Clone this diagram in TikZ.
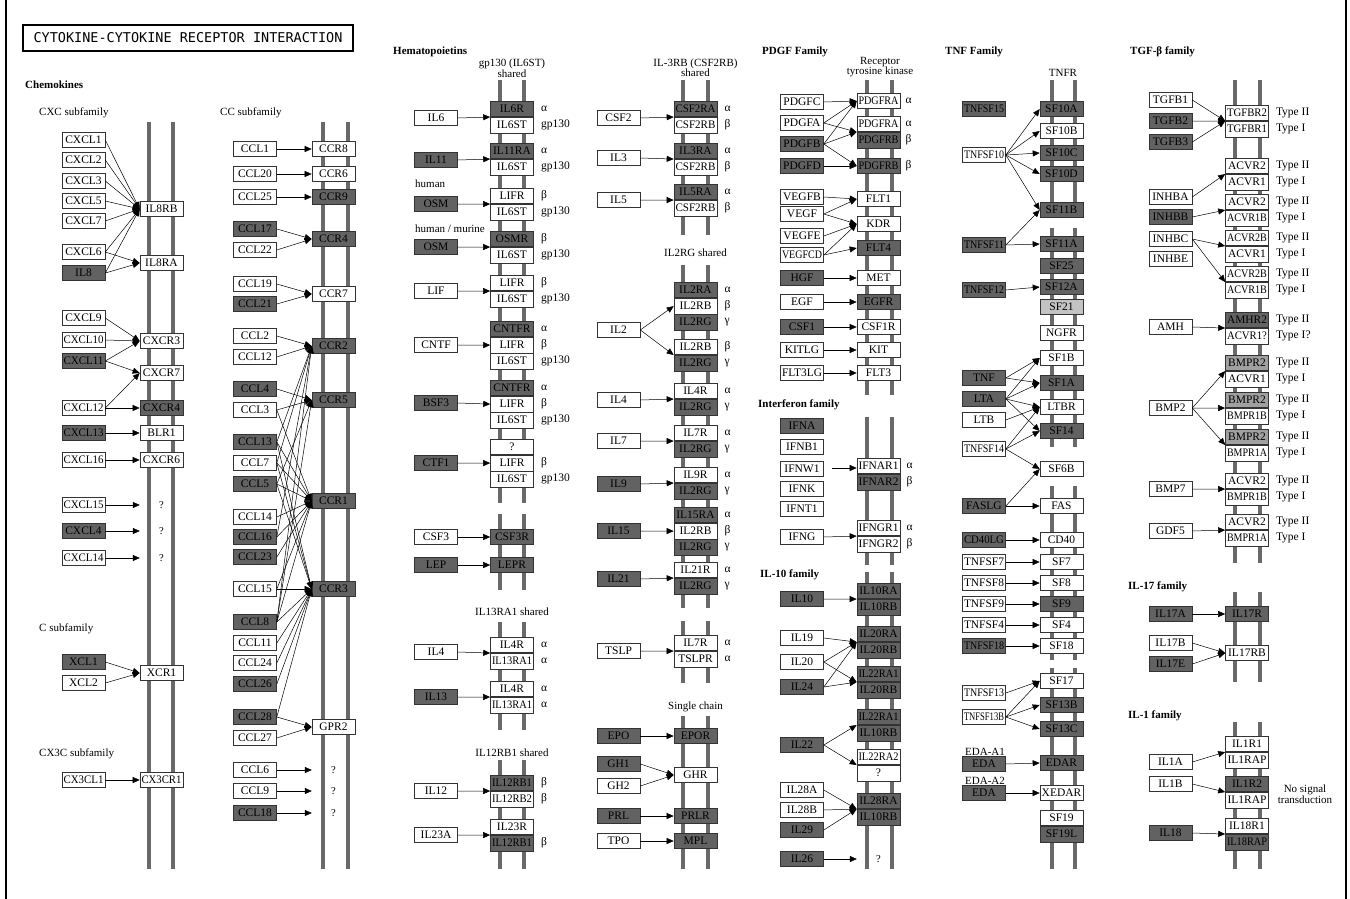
\documentclass[tikz,border=0pt]{standalone}
\usepackage{fontspec}
\setmainfont{Liberation Serif}
\newfontfamily\titlefont{DejaVu Sans Mono}
\usepackage{graphicx}
\usetikzlibrary{arrows.meta,positioning}

\definecolor{gdark}{RGB}{98,98,98}
\definecolor{gmid}{RGB}{160,160,160}
\definecolor{glight}{RGB}{195,195,195}
\definecolor{gbar}{RGB}{105,105,105}

% squeeze long gene names into the box
\newsavebox\genebox
\makeatletter
\newcommand{\fitgene}{%
  \ifdim\wd\genebox>40pt
    \pgfmathsetmacro\fitratio{40/\strip@pt\wd\genebox}%
    \scalebox{\fitratio}[1]{\usebox\genebox}%
  \else\usebox\genebox\fi}
\makeatother

\begin{document}
\begin{tikzpicture}[x=1pt, y=-1pt,
  gene/.style={draw=black!80, line width=0.6pt, fill=white, minimum width=43pt,
    minimum height=15.5pt, inner sep=0pt, font=\fontsize{11.5}{11.5}\selectfont,
    execute at begin node={\setbox\genebox\hbox\bgroup},
    execute at end node={\egroup\fitgene}},
  dk/.style={gene, fill=gdark},
  md/.style={gene, fill=gmid},
  lt/.style={gene, fill=glight},
  qm/.style={minimum width=43pt, minimum height=15.5pt, inner sep=0pt, font=\fontsize{10.5}{10.5}\selectfont},
  act/.style={-{Triangle[length=7pt,width=6pt]}, line width=0.5pt},
  mem/.style={line width=3.5pt, draw=gbar},
  lab/.style={inner sep=0pt, font=\fontsize{11.5}{11.5}\selectfont},
  note/.style={inner sep=0pt, font=\fontsize{11}{10}\selectfont},
  fam/.style={inner sep=0pt, anchor=west, font=\bfseries\fontsize{11}{11}\selectfont}]
  \useasboundingbox (0,0) rectangle (1350,899);
  \draw[line width=2pt] (6,0) -- (6,899);
  \draw[line width=2pt] (1346,0) -- (1346,899);

  % Membranes
  \foreach \xa/\xb/\ya/\yb in {149/173/122/869, 323/348/122/869,
      500/524/80/503, 500/524/514/590, 500/524/622/730, 500/524/760/869,
      683/708/80/235, 683/708/265/608, 683/708/621/683, 683/708/716/869,
      867/892/80/395, 867/892/417/565, 867/892/572/869,
      1052/1075/80/218, 1052/1075/228/447, 1052/1075/486/660, 1052/1075/668/869,
      1235/1260/80/563, 1235/1260/592/682, 1235/1260/722/869}
    {\draw[mem] (\xa,\ya) -- (\xa,\yb); \draw[mem] (\xb,\ya) -- (\xb,\yb);}

  % Titles
  \node[draw, line width=1.6pt, minimum width=330pt, minimum height=26pt, inner sep=0pt,
    font={\titlefont\fontsize{13.5}{13.5}\selectfont}] (title) at (188,38)
    {CYTOKINE-CYTOKINE RECEPTOR INTERACTION};
  \node[fam] at (25,85) {Chemokines};
  \node[note, anchor=west] at (39,113) {CXC subfamily};
  \node[note, anchor=west] at (220,113) {CC subfamily};
  \node[note, anchor=west] at (39,629) {C subfamily};
  \node[note, anchor=west] at (39,754) {CX3C subfamily};
  \node[fam] at (393,52) {Hematopoietins};
  \node[fam] at (762,52) {PDGF Family};
  \node[fam] at (945,52) {TNF Family};
  \node[fam] at (1130,52) {TGF-β family};
  \node[fam] at (758,405) {Interferon family};
  \node[fam] at (760,575) {IL-10 family};
  \node[fam] at (1128,587) {IL-17 family};
  \node[fam] at (1128,716) {IL-1 family};
  \node[note, align=center] at (512,68) {gp130 (IL6ST)\\shared};
  \node[note, align=center] at (695.5,68) {IL-3RB (CSF2RB)\\shared};
  \node[note, align=center] at (880,67) {Receptor\\tyrosine kinase};
  \node[note] at (1063,73) {TNFR};
  \node[note] at (695.5,253) {IL2RG shared};
  \node[note] at (512,612) {IL13RA1 shared};
  \node[note] at (512,753) {IL12RB1 shared};
  \node[note] at (695.5,707) {Single chain};
  \node[note, anchor=west] at (415,184) {human};
  \node[note, anchor=west] at (415,229) {human / murine};
  \node[note, anchor=west] at (965,752) {EDA-A1};
  \node[note, anchor=west] at (965,781) {EDA-A2};
  \node[note, align=center] at (1305,794) {No signal\\transduction};

  % CXC subfamily
  \node[gene] (cxcl1) at (83.5,140) {CXCL1};
  \node[gene] (cxcl2) at (83.5,160) {CXCL2};
  \node[gene] (cxcl3) at (83.5,181) {CXCL3};
  \node[gene] (cxcl5) at (83.5,201) {CXCL5};
  \node[gene] (cxcl7) at (83.5,221) {CXCL7};
  \node[gene] (cxcl6) at (83.5,252) {CXCL6};
  \node[dk] (il8) at (83.5,273) {IL8};
  \node[gene] (cxcl9) at (83.5,318) {CXCL9};
  \node[gene] (cxcl10) at (83.5,340) {CXCL10};
  \node[dk] (cxcl11) at (83.5,361) {CXCL11};
  \node[gene] (cxcl12) at (83.5,408) {CXCL12};
  \node[dk] (cxcl13) at (83.5,433) {CXCL13};
  \node[gene] (cxcl16) at (83.5,460) {CXCL16};
  \node[gene] (cxcl15) at (83.5,505) {CXCL15};
  \node[dk] (cxcl4) at (83.5,531) {CXCL4};
  \node[gene] (cxcl14) at (83.5,558) {CXCL14};
  \node[gene] (il8rb) at (161.5,209) {IL8RB};
  \node[gene] (il8ra) at (161.5,263) {IL8RA};
  \node[gene] (cxcr3) at (161.5,341) {CXCR3};
  \node[gene] (cxcr7) at (161.5,373) {CXCR7};
  \node[dk] (cxcr4) at (161.5,408) {CXCR4};
  \node[gene] (blr1) at (161.5,433) {BLR1};
  \node[gene] (cxcr6) at (161.5,460) {CXCR6};
  \node[qm] (qx1) at (161.5,505) {?};
  \node[qm] (qx2) at (161.5,531) {?};
  \node[qm] (qx3) at (161.5,558) {?};
  \foreach \l in {cxcl1,cxcl2,cxcl3,cxcl5,cxcl7,cxcl6,il8}
    \draw[act] (\l.east) -- (il8rb.west);
  \draw[act] (cxcl6.east) -- (il8ra.west);
  \draw[act] (il8.east) -- (il8ra.west);
  \draw[act] (cxcl9.east) -- (cxcr3.west);
  \draw[act] (cxcl10.east) -- (cxcr3.west);
  \draw[act] (cxcl11.east) -- (cxcr3.west);
  \draw[act] (cxcl11.east) -- (cxcr7.west);
  \draw[act] (cxcl12.east) -- (cxcr7.west);
  \draw[act] (cxcl12.east) -- (cxcr4.west);
  \draw[act] (cxcl13.east) -- (blr1.west);
  \draw[act] (cxcl16.east) -- (cxcr6.west);
  \draw[act] (cxcl15.east) -- (qx1.west);
  \draw[act] (cxcl4.east) -- (qx2.west);
  \draw[act] (cxcl14.east) -- (qx3.west);

  % C and CX3C subfamily
  \node[dk] (xcl1) at (83.5,662) {XCL1};
  \node[gene] (xcl2) at (83.5,683) {XCL2};
  \node[gene] (xcr1) at (161.5,673) {XCR1};
  \node[gene] (cx3cl1) at (83.5,780) {CX3CL1};
  \node[gene] (cx3cr1) at (161.5,780) {CX3CR1};
  \draw[act] (xcl1.east) -- (xcr1.west);
  \draw[act] (xcl2.east) -- (xcr1.west);
  \draw[act] (cx3cl1.east) -- (cx3cr1.west);

  % CC subfamily
  \node[gene] (ccl1) at (255,149) {CCL1};
  \node[gene] (ccl20) at (255,174) {CCL20};
  \node[gene] (ccl25) at (255,197) {CCL25};
  \node[dk] (ccl17) at (255,229) {CCL17};
  \node[gene] (ccl22) at (255,250) {CCL22};
  \node[gene] (ccl19) at (255,284) {CCL19};
  \node[dk] (ccl21) at (255,304) {CCL21};
  \node[gene] (ccl2) at (255,336) {CCL2};
  \node[gene] (ccl12) at (255,357) {CCL12};
  \node[dk] (ccl4) at (255,389) {CCL4};
  \node[gene] (ccl3) at (255,410) {CCL3};
  \node[dk] (ccl13) at (255,442) {CCL13};
  \node[gene] (ccl7) at (255,463) {CCL7};
  \node[dk] (ccl5) at (255,484) {CCL5};
  \node[gene] (ccl14) at (255,517) {CCL14};
  \node[dk] (ccl16) at (255,537) {CCL16};
  \node[dk] (ccl23) at (255,557) {CCL23};
  \node[gene] (ccl15) at (255,589) {CCL15};
  \node[dk] (ccl8) at (255,622) {CCL8};
  \node[gene] (ccl11) at (255,643) {CCL11};
  \node[gene] (ccl24) at (255,663) {CCL24};
  \node[dk] (ccl26) at (255,684) {CCL26};
  \node[dk] (ccl28) at (255,717) {CCL28};
  \node[gene] (ccl27) at (255,738) {CCL27};
  \node[gene] (ccl6) at (255,770) {CCL6};
  \node[gene] (ccl9) at (255,791) {CCL9};
  \node[dk] (ccl18) at (255,813) {CCL18};
  \node[gene] (ccr8) at (333.5,149) {CCR8};
  \node[gene] (ccr6) at (333.5,174) {CCR6};
  \node[dk] (ccr9) at (333.5,197) {CCR9};
  \node[dk] (ccr4) at (333.5,239) {CCR4};
  \node[gene] (ccr7) at (333.5,294) {CCR7};
  \node[dk] (ccr2) at (333.5,346) {CCR2};
  \node[dk] (ccr5) at (333.5,400) {CCR5};
  \node[dk] (ccr1) at (333.5,501) {CCR1};
  \node[dk] (ccr3) at (333.5,589) {CCR3};
  \node[gene] (gpr2) at (333.5,727) {GPR2};
  \node[qm] (qc1) at (333.5,770) {?};
  \node[qm] (qc2) at (333.5,791) {?};
  \node[qm] (qc3) at (333.5,813) {?};
  \draw[act] (ccl1.east) -- (ccr8.west);
  \draw[act] (ccl20.east) -- (ccr6.west);
  \draw[act] (ccl25.east) -- (ccr9.west);
  \draw[act] (ccl17.east) -- (ccr4.west);
  \draw[act] (ccl22.east) -- (ccr4.west);
  \draw[act] (ccl19.east) -- (ccr7.west);
  \draw[act] (ccl21.east) -- (ccr7.west);
  \foreach \l in {ccl2,ccl12,ccl13,ccl7,ccl8,ccl16}
    \draw[act] (\l.east) -- (ccr2.west);
  \foreach \l in {ccl4,ccl3,ccl5,ccl8}
    \draw[act] (\l.east) -- (ccr5.west);
  \foreach \l in {ccl3,ccl13,ccl7,ccl5,ccl14,ccl16,ccl23,ccl15,ccl8}
    \draw[act] (\l.east) -- (ccr1.west);
  \foreach \l in {ccl13,ccl7,ccl5,ccl15,ccl8,ccl11,ccl24,ccl26,ccl28}
    \draw[act] (\l.east) -- (ccr3.west);
  \draw[act] (ccl28.east) -- (gpr2.west);
  \draw[act] (ccl27.east) -- (gpr2.west);
  \draw[act] (ccl6.east) -- (qc1.west);
  \draw[act] (ccl9.east) -- (qc2.west);
  \draw[act] (ccl18.east) -- (qc3.west);

  % gp130 shared
  \node[dk] (il6r) at (512,109) {IL6R};
  \node[gene, below=0pt of il6r] (il6st1) {IL6ST};
  \node[dk] (il11ra) at (512,151) {IL11RA};
  \node[gene, below=0pt of il11ra] (il6st2) {IL6ST};
  \node[gene] (lifr1) at (512,196) {LIFR};
  \node[gene, below=0pt of lifr1] (il6st3) {IL6ST};
  \node[dk] (osmr) at (512,239) {OSMR};
  \node[gene, below=0pt of osmr] (il6st4) {IL6ST};
  \node[gene] (lifr2) at (512,283) {LIFR};
  \node[gene, below=0pt of lifr2] (il6st5) {IL6ST};
  \node[dk] (cntfr1) at (512,329) {CNTFR};
  \node[gene, below=0pt of cntfr1] (lifr3) {LIFR};
  \node[gene, below=0pt of lifr3] (il6st6) {IL6ST};
  \node[dk] (cntfr2) at (512,388) {CNTFR};
  \node[gene, below=0pt of cntfr2] (lifr4) {LIFR};
  \node[gene, below=0pt of lifr4] (il6st7) {IL6ST};
  \node[gene] (qgp) at (512,447) {?};
  \node[gene, below=0pt of qgp] (lifr5) {LIFR};
  \node[gene, below=0pt of lifr5] (il6st8) {IL6ST};
  \node[dk] (csf3r) at (512,537) {CSF3R};
  \node[dk] (lepr) at (512,565) {LEPR};
  \foreach \r/\t in {il6r/α, il11ra/α, lifr1/β, osmr/β, lifr2/β, cntfr1/α, lifr3/β,
      cntfr2/α, lifr4/β, lifr5/β, il6st1/gp130, il6st2/gp130, il6st3/gp130, il6st4/gp130,
      il6st5/gp130, il6st6/gp130, il6st7/gp130, il6st8/gp130}
    \node[lab, right=7pt of \r] {\t};
  \node[gene] (il6) at (436,118) {IL6};
  \node[dk] (il11) at (436,160) {IL11};
  \node[dk] (osm1) at (436,204) {OSM};
  \node[dk] (osm2) at (436,247) {OSM};
  \node[gene] (lif) at (436,291) {LIF};
  \node[gene] (cntf) at (436,345) {CNTF};
  \node[dk] (bsf3) at (436,403) {BSF3};
  \node[dk] (ctf1) at (436,463) {CTF1};
  \node[gene] (csf3) at (436,537) {CSF3};
  \node[dk] (lep) at (436,565) {LEP};
  \draw[act] (il6.east) -- (il6r.south west);
  \draw[act] (il11.east) -- (il11ra.south west);
  \draw[act] (osm1.east) -- (lifr1.south west);
  \draw[act] (osm2.east) -- (osmr.south west);
  \draw[act] (lif.east) -- (lifr2.south west);
  \draw[act] (cntf.east) -- (lifr3.west);
  \draw[act] (bsf3.east) -- (lifr4.west);
  \draw[act] (ctf1.east) -- (lifr5.west);
  \draw[act] (csf3.east) -- (csf3r.west);
  \draw[act] (lep.east) -- (lepr.west);

  % IL13RA1 and IL12RB1 shared
  \node[gene] (il4ra) at (512,645) {IL4R};
  \node[gene, below=0pt of il4ra] (il13ra1a) {IL13RA1};
  \node[gene] (il4rb) at (512,689) {IL4R};
  \node[gene, below=0pt of il4rb] (il13ra1b) {IL13RA1};
  \node[dk] (il12rb1a) at (512,783) {IL12RB1};
  \node[gene, below=0pt of il12rb1a] (il12rb2) {IL12RB2};
  \node[gene] (il23r) at (512,827) {IL23R};
  \node[dk, below=0pt of il23r] (il12rb1b) {IL12RB1};
  \foreach \r/\t in {il4ra/α, il13ra1a/α, il4rb/α, il13ra1b/α, il12rb1a/β, il12rb2/β, il12rb1b/β}
    \node[lab, right=7pt of \r] {\t};
  \node[gene] (il4a) at (436,652) {IL4};
  \node[dk] (il13) at (436,697) {IL13};
  \node[gene] (il12) at (436,791) {IL12};
  \node[gene] (il23a) at (436,835) {IL23A};
  \draw[act] (il4a.east) -- (il4ra.south west);
  \draw[act] (il13.east) -- (il4rb.south west);
  \draw[act] (il12.east) -- (il12rb1a.south west);
  \draw[act] (il23a.east) -- (il23r.south west);

  % IL-3RB shared
  \node[dk] (csf2ra) at (695.5,109) {CSF2RA};
  \node[gene, below=0pt of csf2ra] (csf2rb1) {CSF2RB};
  \node[dk] (il3ra) at (695.5,151) {IL3RA};
  \node[gene, below=0pt of il3ra] (csf2rb2) {CSF2RB};
  \node[dk] (il5ra) at (695.5,192) {IL5RA};
  \node[gene, below=0pt of il5ra] (csf2rb3) {CSF2RB};
  \node[gene] (csf2) at (618.5,118) {CSF2};
  \node[gene] (il3) at (618.5,158) {IL3};
  \node[gene] (il5) at (618.5,200) {IL5};
  \draw[act] (csf2.east) -- (csf2ra.south west);
  \draw[act] (il3.east) -- (il3ra.south west);
  \draw[act] (il5.east) -- (il5ra.south west);

  % IL2RG shared
  \node[dk] (il2ra) at (695.5,290) {IL2RA};
  \node[gene, below=0pt of il2ra] (il2rb1) {IL2RB};
  \node[dk, below=0pt of il2rb1] (il2rg1) {IL2RG};
  \node[gene] (il2rb2) at (695.5,347) {IL2RB};
  \node[dk, below=0pt of il2rb2] (il2rg2) {IL2RG};
  \node[gene] (il4r) at (695.5,391) {IL4R};
  \node[dk, below=0pt of il4r] (il2rg3) {IL2RG};
  \node[gene] (il7r1) at (695.5,433) {IL7R};
  \node[dk, below=0pt of il7r1] (il2rg4) {IL2RG};
  \node[gene] (il9r) at (695.5,475) {IL9R};
  \node[dk, below=0pt of il9r] (il2rg5) {IL2RG};
  \node[dk] (il15ra) at (695.5,515) {IL15RA};
  \node[gene, below=0pt of il15ra] (il2rb3) {IL2RB};
  \node[dk, below=0pt of il2rb3] (il2rg6) {IL2RG};
  \node[gene] (il21r) at (695.5,570) {IL21R};
  \node[dk, below=0pt of il21r] (il2rg7) {IL2RG};
  \node[gene] (il7r2) at (695.5,643) {IL7R};
  \node[gene, below=0pt of il7r2] (tslpr) {TSLPR};
  \foreach \r/\t in {csf2ra/α, csf2rb1/β, il3ra/α, csf2rb2/β, il5ra/α, csf2rb3/β,
      il2ra/α, il2rb1/β, il2rg1/γ, il2rb2/β, il2rg2/γ, il4r/α, il2rg3/γ, il7r1/α, il2rg4/γ,
      il9r/α, il2rg5/γ, il15ra/α, il2rb3/β, il2rg6/γ, il21r/α, il2rg7/γ, il7r2/α, tslpr/α}
    \node[lab, right=7pt of \r] {\t};
  \node[gene] (il2) at (618.5,330) {IL2};
  \node[gene] (il4b) at (618.5,400) {IL4};
  \node[gene] (il7) at (618.5,441) {IL7};
  \node[dk] (il9) at (618.5,484) {IL9};
  \node[dk] (il15) at (618.5,531) {IL15};
  \node[dk] (il21) at (618.5,579) {IL21};
  \node[gene] (tslp) at (618.5,651) {TSLP};
  \draw[act] (il2.east) -- (il2rb1.west);
  \draw[act] (il2.east) -- (il2rb2.south west);
  \draw[act] (il4b.east) -- (il4r.south west);
  \draw[act] (il7.east) -- (il7r1.south west);
  \draw[act] (il9.east) -- (il9r.south west);
  \draw[act] (il15.east) -- (il2rb3.west);
  \draw[act] (il21.east) -- (il21r.south west);
  \draw[act] (tslp.east) -- (il7r2.south west);

  % Single chain
  \node[dk] (epor) at (695.5,736) {EPOR};
  \node[gene] (ghr) at (695.5,775) {GHR};
  \node[dk] (prlr) at (695.5,816) {PRLR};
  \node[dk] (mpl) at (695.5,841) {MPL};
  \node[dk] (epo) at (618.5,736) {EPO};
  \node[dk] (gh1) at (618.5,764) {GH1};
  \node[gene] (gh2) at (618.5,786) {GH2};
  \node[dk] (prl) at (618.5,816) {PRL};
  \node[gene] (tpo) at (618.5,841) {TPO};
  \draw[act] (epo.east) -- (epor.west);
  \draw[act] (gh1.east) -- (ghr.west);
  \draw[act] (gh2.east) -- (ghr.west);
  \draw[act] (prl.east) -- (prlr.west);
  \draw[act] (tpo.east) -- (mpl.west);

  % PDGF family
  \node[gene] (pdgfc) at (802,102) {PDGFC};
  \node[gene] (pdgfa) at (802,123) {PDGFA};
  \node[dk] (pdgfb) at (802,144) {PDGFB};
  \node[dk] (pdgfd) at (802,166) {PDGFD};
  \node[gene] (vegfb) at (802,197) {VEGFB};
  \node[gene] (vegf) at (802,214) {VEGF};
  \node[gene] (vegfe) at (802,236) {VEGFE};
  \node[gene] (vegfcd) at (802,255) {VEGFCD};
  \node[dk] (hgf) at (802,278) {HGF};
  \node[gene] (egf) at (802,302) {EGF};
  \node[dk] (csf1) at (802,327) {CSF1};
  \node[gene] (kitlg) at (802,350) {KITLG};
  \node[gene] (flt3lg) at (802,373) {FLT3LG};
  \node[gene] (pdgfra1) at (878.5,101) {PDGFRA};
  \node[gene] (pdgfra2) at (878.5,124) {PDGFRA};
  \node[dk, below=0pt of pdgfra2] (pdgfrb1) {PDGFRB};
  \node[dk] (pdgfrb2) at (878.5,166) {PDGFRB};
  \node[gene] (flt1) at (878.5,199) {FLT1};
  \node[gene] (kdr) at (878.5,224) {KDR};
  \node[dk] (flt4) at (878.5,248) {FLT4};
  \node[gene] (met) at (878.5,278) {MET};
  \node[dk] (egfr) at (878.5,302) {EGFR};
  \node[gene] (csf1r) at (878.5,327) {CSF1R};
  \node[gene] (kit) at (878.5,350) {KIT};
  \node[gene] (flt3) at (878.5,373) {FLT3};
  \foreach \r/\t in {pdgfra1/α, pdgfra2/α, pdgfrb1/β, pdgfrb2/β}
    \node[lab, right=5pt of \r] {\t};
  \draw[act] (pdgfc.east) -- (pdgfra1.west);
  \draw[act] (pdgfa.east) -- (pdgfra1.west);
  \draw[act] (pdgfb.east) -- (pdgfra1.west);
  \draw[act] (pdgfa.east) -- (pdgfra2.south west);
  \draw[act] (pdgfb.east) -- (pdgfra2.south west);
  \draw[act] (pdgfb.east) -- (pdgfrb2.west);
  \draw[act] (pdgfd.east) -- (pdgfrb2.west);
  \draw[act] (vegfb.east) -- (flt1.west);
  \draw[act] (vegf.east) -- (flt1.west);
  \draw[act] (vegf.east) -- (kdr.west);
  \draw[act] (vegfe.east) -- (kdr.west);
  \draw[act] (vegfcd.east) -- (kdr.west);
  \draw[act] (vegfcd.east) -- (flt4.west);
  \draw[act] (hgf.east) -- (met.west);
  \draw[act] (egf.east) -- (egfr.west);
  \draw[act] (csf1.east) -- (csf1r.west);
  \draw[act] (kitlg.east) -- (kit.west);
  \draw[act] (flt3lg.east) -- (flt3.west);

  % Interferon family
  \node[dk] (ifna) at (802,426) {IFNA};
  \node[gene] (ifnb1) at (802,447) {IFNB1};
  \node[gene] (ifnw1) at (802,469) {IFNW1};
  \node[gene] (ifnk) at (802,489) {IFNK};
  \node[gene] (ifnt1) at (802,509) {IFNT1};
  \node[gene] (ifng) at (802,537) {IFNG};
  \node[gene] (ifnar1) at (878.5,466) {IFNAR1};
  \node[dk, below=0pt of ifnar1] (ifnar2) {IFNAR2};
  \node[gene] (ifngr1) at (878.5,528) {IFNGR1};
  \node[gene, below=0pt of ifngr1] (ifngr2) {IFNGR2};
  \foreach \r/\t in {ifnar1/α, ifnar2/β, ifngr1/α, ifngr2/β}
    \node[lab, right=6pt of \r] {\t};
  \coordinate (ifnin) at (832,468);
  \draw[act] (ifnin) -- (ifnin -| ifnar1.west);
  \draw[act] (ifng.east) -- (ifngr1.south west);

  % IL-10 family
  \node[dk] (il10ra) at (878.5,591) {IL10RA};
  \node[dk, below=0pt of il10ra] (il10rb1) {IL10RB};
  \node[dk] (il20ra) at (878.5,634) {IL20RA};
  \node[dk, below=0pt of il20ra] (il20rb1) {IL20RB};
  \node[dk] (il22ra1a) at (878.5,674) {IL22RA1};
  \node[dk, below=0pt of il22ra1a] (il20rb2) {IL20RB};
  \node[dk] (il22ra1b) at (878.5,717) {IL22RA1};
  \node[dk, below=0pt of il22ra1b] (il10rb2) {IL10RB};
  \node[gene] (il22ra2) at (878.5,757) {IL22RA2};
  \node[gene, below=0pt of il22ra2] (qil) {?};
  \node[dk] (il28ra) at (878.5,801) {IL28RA};
  \node[dk, below=0pt of il28ra] (il10rb3) {IL10RB};
  \node[qm] (qi) at (878.5,859) {?};
  \node[dk] (il10) at (802,599) {IL10};
  \node[gene] (il19) at (802,638) {IL19};
  \node[gene] (il20) at (802,662) {IL20};
  \node[dk] (il24) at (802,687) {IL24};
  \node[dk] (il22) at (802,745) {IL22};
  \node[gene] (il28a) at (802,790) {IL28A};
  \node[gene] (il28b) at (802,810) {IL28B};
  \node[dk] (il29) at (802,830) {IL29};
  \node[dk] (il26) at (802,859) {IL26};
  \draw[act] (il10.east) -- (il10ra.south west);
  \draw[act] (il19.east) -- (il20ra.south west);
  \draw[act] (il20.east) -- (il20ra.south west);
  \draw[act] (il20.east) -- (il22ra1a.south west);
  \draw[act] (il24.east) -- (il20ra.south west);
  \draw[act] (il24.east) -- (il22ra1a.south west);
  \draw[act] (il22.east) -- (il22ra1b.south west);
  \draw[act] (il22.east) -- (il22ra2.south west);
  \draw[act] (il28a.east) -- (il28ra.south west);
  \draw[act] (il28b.east) -- (il28ra.south west);
  \draw[act] (il29.east) -- (il28ra.south west);
  \draw[act] (il26.east) -- (qi.west);

  % TNF family
  \node[dk] (tnfsf15) at (984,109) {TNFSF15};
  \node[gene] (tnfsf10) at (984,155) {TNFSF10};
  \node[dk] (tnfsf11) at (984,245) {TNFSF11};
  \node[dk] (tnfsf12) at (984,290) {TNFSF12};
  \node[dk] (tnf) at (984,378) {TNF};
  \node[dk] (lta) at (984,399) {LTA};
  \node[gene] (ltb) at (984,420) {LTB};
  \node[gene] (tnfsf14) at (984,449) {TNFSF14};
  \node[dk] (faslg) at (984,506) {FASLG};
  \node[dk] (cd40lg) at (984,540) {CD40LG};
  \node[gene] (tnfsf7) at (984,562) {TNFSF7};
  \node[gene] (tnfsf8) at (984,583) {TNFSF8};
  \node[gene] (tnfsf9) at (984,604) {TNFSF9};
  \node[gene] (tnfsf4) at (984,625) {TNFSF4};
  \node[dk] (tnfsf18) at (984,646) {TNFSF18};
  \node[gene] (tnfsf13) at (984,693) {TNFSF13};
  \node[gene] (tnfsf13b) at (984,717) {TNFSF13B};
  \node[dk] (eda1) at (984,764) {EDA};
  \node[dk] (eda2) at (984,793) {EDA};
  \node[dk] (sf10a) at (1061.5,109) {SF10A};
  \node[gene] (sf10b) at (1061.5,131) {SF10B};
  \node[dk] (sf10c) at (1061.5,153) {SF10C};
  \node[dk] (sf10d) at (1061.5,174) {SF10D};
  \node[dk] (sf11b) at (1061.5,210) {SF11B};
  \node[dk] (sf11a) at (1061.5,244) {SF11A};
  \node[dk] (sf25) at (1061.5,266) {SF25};
  \node[dk] (sf12a) at (1061.5,287) {SF12A};
  \node[lt] (sf21) at (1061.5,307) {SF21};
  \node[gene] (ngfr) at (1061.5,333) {NGFR};
  \node[gene] (sf1b) at (1061.5,358) {SF1B};
  \node[dk] (sf1a) at (1061.5,383) {SF1A};
  \node[gene] (ltbr) at (1061.5,407) {LTBR};
  \node[dk] (sf14) at (1061.5,431) {SF14};
  \node[gene] (sf6b) at (1061.5,469) {SF6B};
  \node[gene] (fas) at (1061.5,506) {FAS};
  \node[gene] (cd40) at (1061.5,540) {CD40};
  \node[gene] (sf7) at (1061.5,562) {SF7};
  \node[gene] (sf8) at (1061.5,583) {SF8};
  \node[dk] (sf9) at (1061.5,604) {SF9};
  \node[gene] (sf4) at (1061.5,625) {SF4};
  \node[gene] (sf18) at (1061.5,646) {SF18};
  \node[gene] (sf17) at (1061.5,681) {SF17};
  \node[dk] (sf13b) at (1061.5,705) {SF13B};
  \node[dk] (sf13c) at (1061.5,729) {SF13C};
  \node[dk] (edar) at (1061.5,763) {EDAR};
  \node[gene] (xedar) at (1061.5,793) {XEDAR};
  \node[gene] (sf19) at (1061.5,818) {SF19};
  \node[dk, below=0pt of sf19] (sf19l) {SF19L};
  \foreach \r in {sf10a,sf10b,sf10c,sf10d,sf11b}
    \draw[act] (tnfsf10.east) -- (\r.west);
  \draw[act] (tnfsf11.east) -- (sf11b.west);
  \draw[act] (tnfsf11.east) -- (sf11a.west);
  \draw[act] (tnfsf12.east) -- (sf12a.west);
  \draw[act] (tnf.east) -- (sf1b.west);
  \draw[act] (tnf.east) -- (sf1a.west);
  \foreach \r in {sf1b,sf1a,ltbr,sf14}
    \draw[act] (lta.east) -- (\r.west);
  \draw[act] (ltb.east) -- (ltbr.west);
  \foreach \r in {ltbr,sf14,sf6b}
    \draw[act] (tnfsf14.east) -- (\r.west);
  \draw[act] (faslg.east) -- (sf6b.west);
  \draw[act] (faslg.east) -- (fas.west);
  \draw[act] (cd40lg.east) -- (cd40.west);
  \draw[act] (tnfsf7.east) -- (sf7.west);
  \draw[act] (tnfsf8.east) -- (sf8.west);
  \draw[act] (tnfsf9.east) -- (sf9.west);
  \draw[act] (tnfsf4.east) -- (sf4.west);
  \draw[act] (tnfsf18.east) -- (sf18.west);
  \draw[act] (tnfsf13.east) -- (sf17.west);
  \foreach \r in {sf17,sf13b,sf13c}
    \draw[act] (tnfsf13b.east) -- (\r.west);
  \draw[act] (eda1.east) -- (edar.west);
  \draw[act] (eda2.east) -- (xedar.west);

  % TGF-beta family
  \node[gene] (tgfbr2) at (1247,113) {TGFBR2};
  \node[gene, below=0pt of tgfbr2] (tgfbr1) {TGFBR1};
  \node[gene] (acvr2a) at (1247,166) {ACVR2};
  \node[gene, below=0pt of acvr2a] (acvr1a) {ACVR1};
  \node[gene] (acvr2b) at (1247,202) {ACVR2};
  \node[gene, below=0pt of acvr2b] (acvr1bb) {ACVR1B};
  \node[gene] (acvr2bc) at (1247,238) {ACVR2B};
  \node[gene, below=0pt of acvr2bc] (acvr1c) {ACVR1};
  \node[gene] (acvr2bd) at (1247,274) {ACVR2B};
  \node[gene, below=0pt of acvr2bd] (acvr1bd) {ACVR1B};
  \node[dk] (amhr2) at (1247,320) {AMHR2};
  \node[gene, below=0pt of amhr2] (acvr1q) {ACVR1?};
  \node[md] (bmpr2a) at (1247,363) {BMPR2};
  \node[gene, below=0pt of bmpr2a] (acvr1e) {ACVR1};
  \node[md] (bmpr2b) at (1247,400) {BMPR2};
  \node[gene, below=0pt of bmpr2b] (bmpr1bb) {BMPR1B};
  \node[md] (bmpr2c) at (1247,437) {BMPR2};
  \node[gene, below=0pt of bmpr2c] (bmpr1ac) {BMPR1A};
  \node[gene] (acvr2f) at (1247,481) {ACVR2};
  \node[gene, below=0pt of acvr2f] (bmpr1bf) {BMPR1B};
  \node[gene] (acvr2g) at (1247,522) {ACVR2};
  \node[gene, below=0pt of acvr2g] (bmpr1ag) {BMPR1A};
  \foreach \r in {tgfbr2,acvr2a,acvr2b,acvr2bc,acvr2bd,amhr2,bmpr2a,bmpr2b,bmpr2c,acvr2f,acvr2g}
    \node[lab, right=7pt of \r] {Type II};
  \foreach \r in {tgfbr1,acvr1a,acvr1bb,acvr1c,acvr1bd,acvr1e,bmpr1bb,bmpr1ac,bmpr1bf,bmpr1ag}
    \node[lab, right=7pt of \r] {Type I};
  \node[lab, right=7pt of acvr1q] {Type I?};
  \node[gene] (tgfb1) at (1170.5,100) {TGFB1};
  \node[dk] (tgfb2) at (1170.5,121) {TGFB2};
  \node[dk] (tgfb3) at (1170.5,142) {TGFB3};
  \node[gene] (inhba) at (1170.5,197) {INHBA};
  \node[dk] (inhbb) at (1170.5,217) {INHBB};
  \node[gene] (inhbc) at (1170.5,239) {INHBC};
  \node[gene] (inhbe) at (1170.5,259) {INHBE};
  \node[gene] (amh) at (1170.5,327) {AMH};
  \node[gene] (bmp2) at (1170.5,408) {BMP2};
  \node[gene] (bmp7) at (1170.5,489) {BMP7};
  \node[gene] (gdf5) at (1170.5,531) {GDF5};
  \foreach \l in {tgfb1,tgfb2,tgfb3}
    \draw[act] (\l.east) -- (tgfbr2.south west);
  \draw[act] (inhba.east) -- (acvr2a.south west);
  \draw[act] (inhbb.east) -- (acvr2b.south west);
  \draw[act] (inhbc.east) -- (acvr2bc.south west);
  \draw[act] (inhbc.east) -- (acvr2bd.south west);
  \draw[act] (amh.east) -- (amhr2.south west);
  \draw[act] (bmp2.east) -- (bmpr2a.south west);
  \draw[act] (bmp2.east) -- (bmpr2b.south west);
  \draw[act] (bmp2.east) -- (bmpr2c.south west);
  \draw[act] (bmp7.east) -- (acvr2f.south west);
  \draw[act] (gdf5.east) -- (acvr2g.south west);

  % IL-17 family
  \node[dk] (il17r) at (1247,614) {IL17R};
  \node[gene] (il17rb) at (1247,653) {IL17RB};
  \node[dk] (il17a) at (1170.5,614) {IL17A};
  \node[gene] (il17b) at (1170.5,643) {IL17B};
  \node[dk] (il17e) at (1170.5,664) {IL17E};
  \draw[act] (il17a.east) -- (il17r.west);
  \draw[act] (il17b.east) -- (il17rb.west);
  \draw[act] (il17e.east) -- (il17rb.west);

  % IL-1 family
  \node[gene] (il1r1) at (1247,744) {IL1R1};
  \node[gene, below=0pt of il1r1] (il1rap1) {IL1RAP};
  \node[dk] (il1r2) at (1247,784) {IL1R2};
  \node[gene, below=0pt of il1r2] (il1rap2) {IL1RAP};
  \node[gene] (il18r1) at (1247,826) {IL18R1};
  \node[dk, below=0pt of il18r1] (il18rap) {IL18RAP};
  \node[gene] (il1a) at (1170.5,762) {IL1A};
  \node[gene] (il1b) at (1170.5,784) {IL1B};
  \node[dk] (il18) at (1170.5,833) {IL18};
  \draw[act] (il1a.east) -- (il1r1.south west);
  \draw[act] (il1b.east) -- (il1r2.south west);
  \draw[act] (il18.east) -- (il18r1.south west);
\end{tikzpicture}
\end{document}
